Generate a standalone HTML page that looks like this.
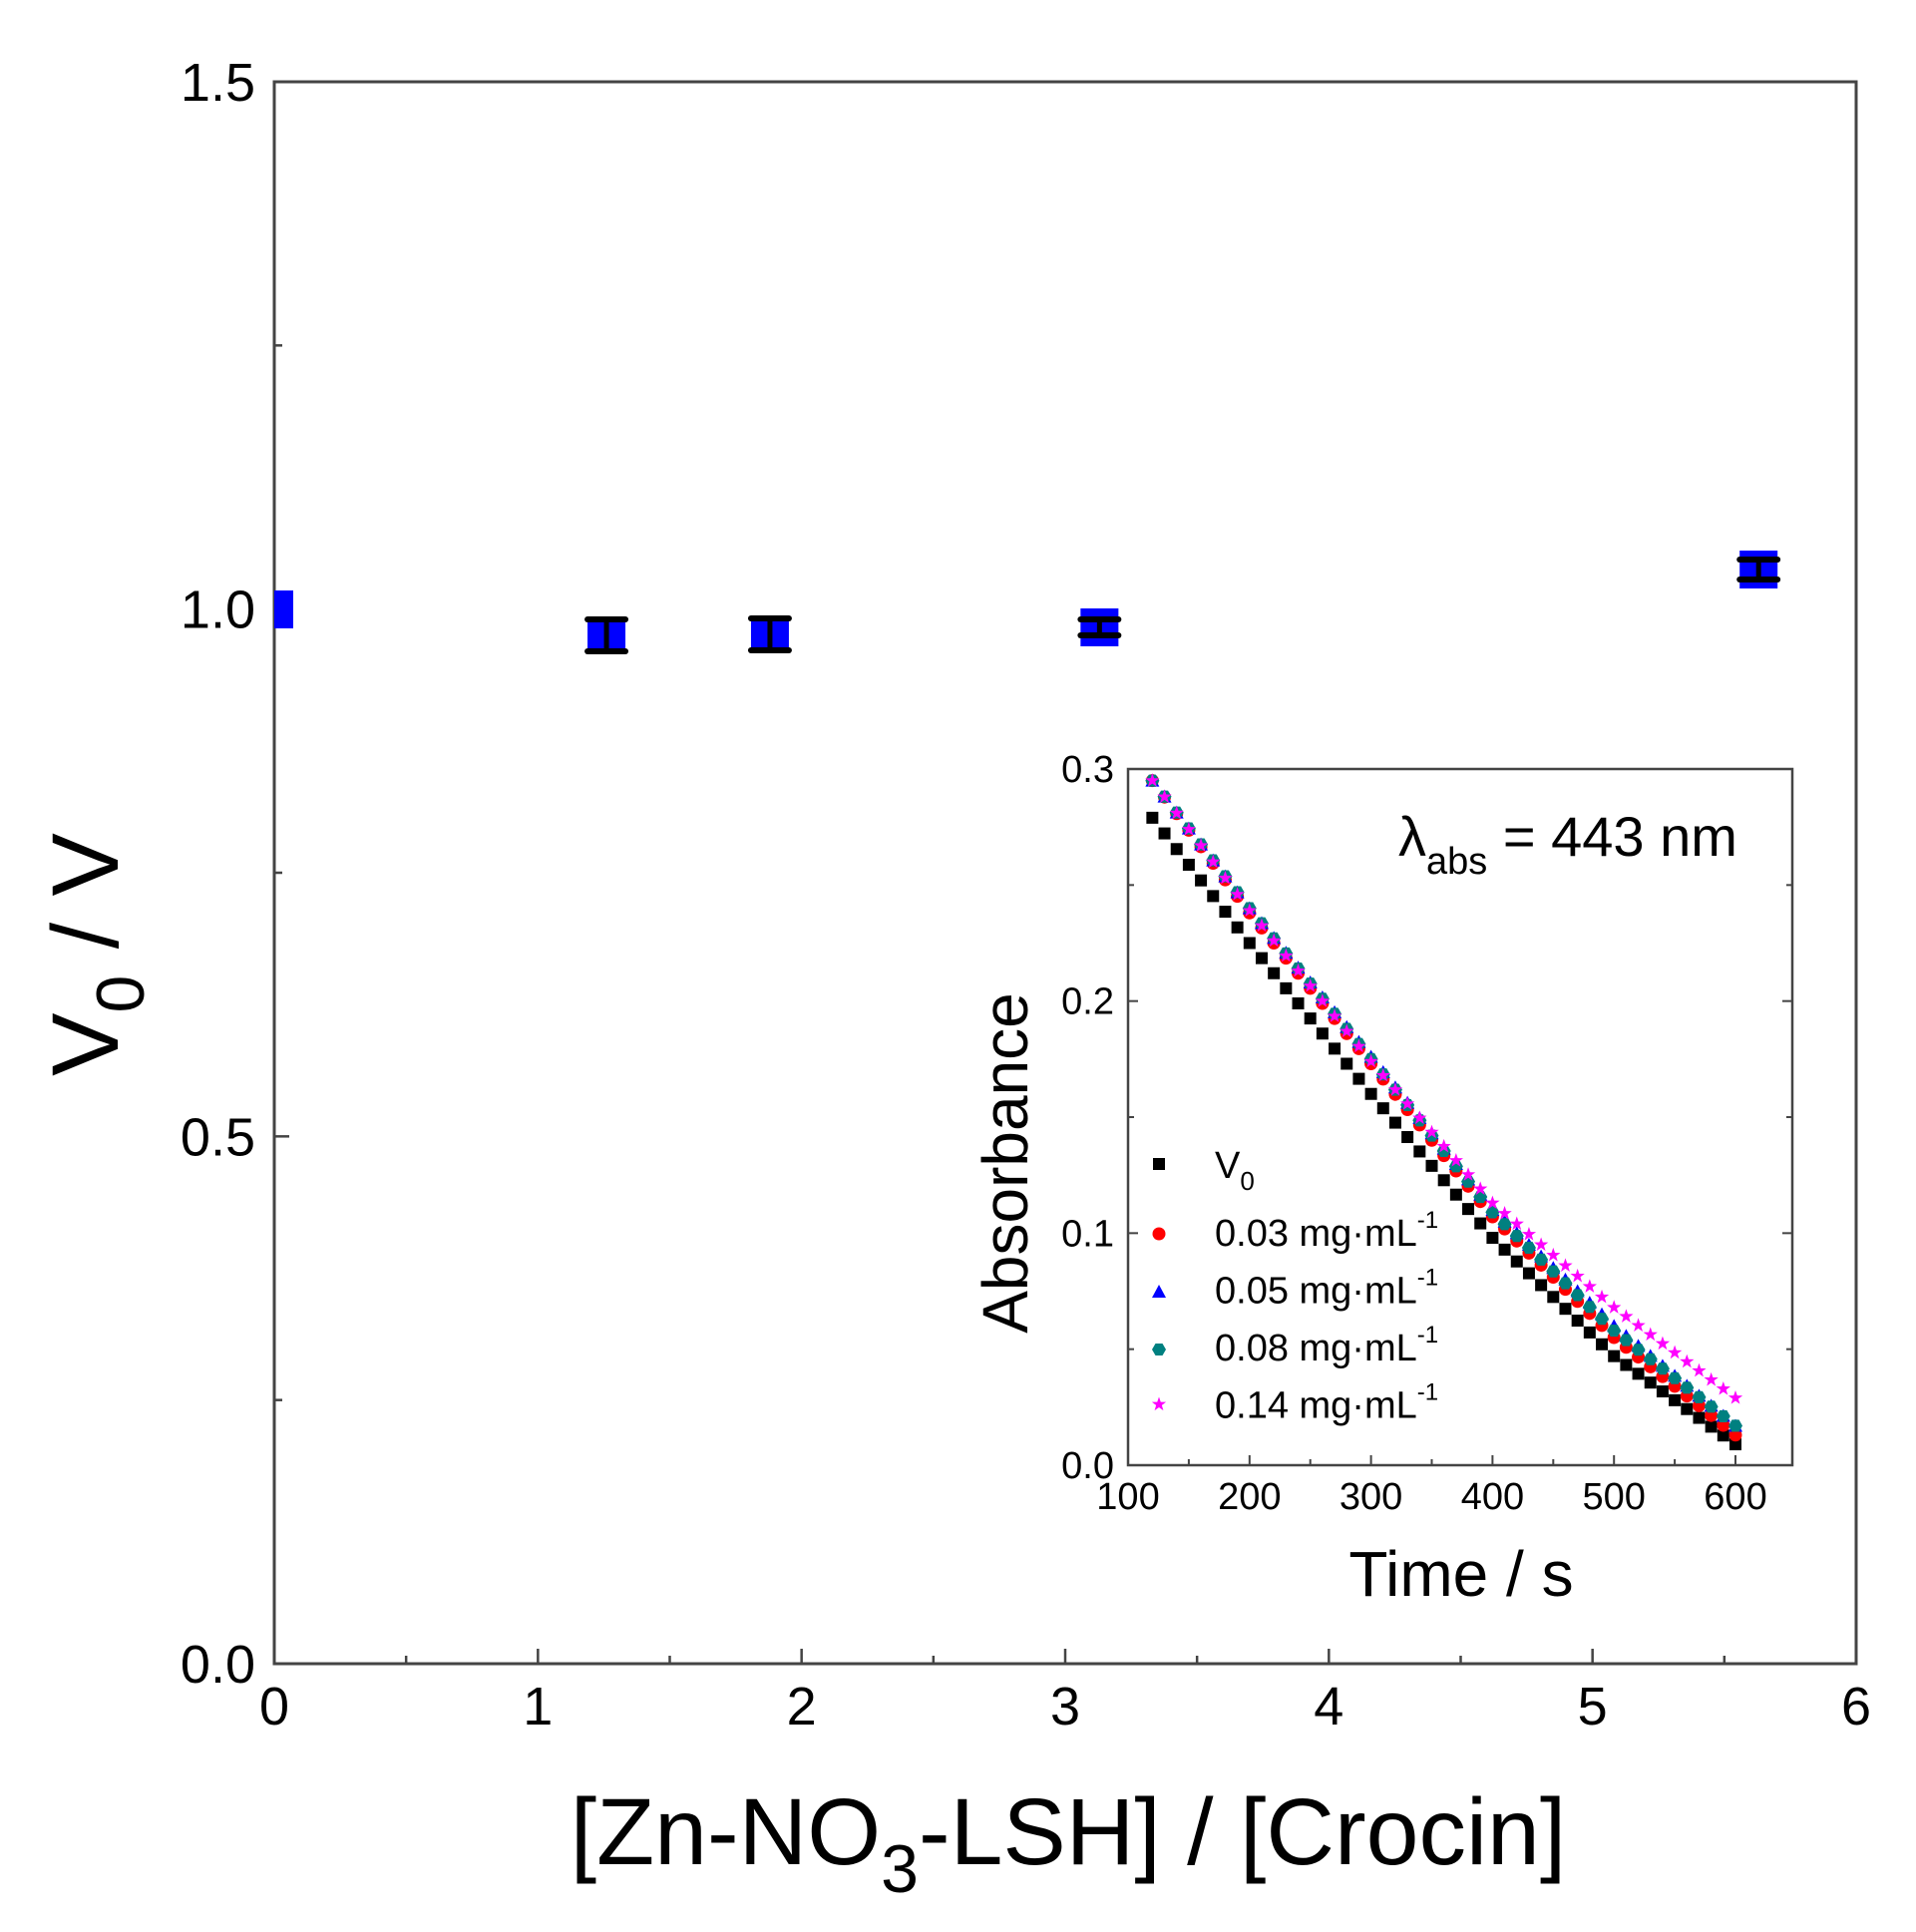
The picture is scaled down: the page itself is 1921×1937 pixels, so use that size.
<!DOCTYPE html>
<html><head><meta charset="utf-8"><style>
html,body{margin:0;padding:0;background:#fff;}
svg{display:block;}
text{font-family:"Liberation Sans",Arial,sans-serif;fill:#000;}
</style></head><body>
<svg id="s" width="1921" height="1937" viewBox="0 0 1921 1937" xmlns="http://www.w3.org/2000/svg">
<rect width="1921" height="1937" fill="#fff"/>
<g id="g"></g>
</svg>
<script>
var NS="http://www.w3.org/2000/svg",G=document.getElementById('g');
function el(t,a,txt){var e=document.createElementNS(NS,t);for(var k in a)e.setAttribute(k,a[k]);if(txt!=null)e.textContent=txt;G.appendChild(e);return e;}
var L=275,R=1861,T=82,B=1668;
function mx(v){return L+(R-L)*v/6;} function my(v){return B-(B-T)*v/1.5;}
for(var i=0;i<=12;i++){var x=mx(i/2);var len=(i%2==0)?15:8;el('line',{x1:x,y1:B,x2:x,y2:B-len,stroke:'#444','stroke-width':2.5});}
for(var i=0;i<=6;i++){var y=my(i*0.25);var len=(i%2==0)?15:8;el('line',{x1:L,y1:y,x2:L+len,y2:y,stroke:'#444','stroke-width':2.5});}
el('rect',{x:L,y:T,width:R-L,height:B-T,fill:'none',stroke:'#444','stroke-width':3});
for(var i=0;i<=6;i++){el('text',{x:mx(i),y:1729,'font-size':54,'text-anchor':'middle'},String(i));}
['0.0','0.5','1.0','1.5'].forEach(function(s,i){el('text',{x:256,y:my(i*0.5)+19,'font-size':54,'text-anchor':'end'},s);});
var pts=[[0,611,0],[1.26,637,16],[1.88,636,16],[3.13,629,8],[5.63,571,10]];
var defs=document.createElementNS(NS,'clipPath');defs.setAttribute('id','c');var cr=document.createElementNS(NS,'rect');
cr.setAttribute('x',L);cr.setAttribute('y',T);cr.setAttribute('width',R-L);cr.setAttribute('height',B-T);defs.appendChild(cr);G.appendChild(defs);
pts.forEach(function(p){var x=mx(p[0]),y=p[1];
 el('rect',{x:x-19,y:y-19,width:38,height:38,fill:'#0000ff','clip-path':'url(#c)'});
 if(p[2]>0){el('line',{x1:x,y1:y-p[2],x2:x,y2:y+p[2],stroke:'#000','stroke-width':5});
 el('line',{x1:x-19,y1:y-p[2],x2:x+19,y2:y-p[2],stroke:'#000','stroke-width':6,'stroke-linecap':'round'});
 el('line',{x1:x-19,y1:y+p[2],x2:x+19,y2:y+p[2],stroke:'#000','stroke-width':6,'stroke-linecap':'round'});}
});
var t=el('text',{x:1071,y:1869,'font-size':95,'text-anchor':'middle'});
t.innerHTML='[Zn-NO<tspan font-size="68" dy="28">3</tspan><tspan dy="-28">-LSH] / [Crocin]</tspan>';
var t2=el('text',{x:0,y:0,'font-size':95,'text-anchor':'middle',transform:'translate(118,957) rotate(-90)'});
t2.innerHTML='V<tspan font-size="68" dy="26">0</tspan><tspan dy="-26"> / V</tspan>';
var iL=1131,iR=1797,iT=771,iB=1469;
function ix(v){return iL+(v-100)*(1740-iL)/500;} function iy(v){return iB-(iB-iT)*v/0.3;}
el('rect',{x:iL,y:iT,width:iR-iL,height:iB-iT,fill:'#fff',stroke:'#444','stroke-width':2.5});
for(var v=100;v<=600;v+=50){var x=ix(v);var len=(v%100==0)?10:6;el('line',{x1:x,y1:iB,x2:x,y2:iB-len,stroke:'#444','stroke-width':2});}
for(var k=0;k<=6;k++){var y=iy(k*0.05);var len=(k%2==0)?10:6;el('line',{x1:iL,y1:y,x2:iL+len,y2:y,stroke:'#444','stroke-width':2});el('line',{x1:iR,y1:y,x2:iR-len,y2:y,stroke:'#444','stroke-width':2});}
for(var v=100;v<=600;v+=100){el('text',{x:ix(v),y:1513,'font-size':38,'text-anchor':'middle'},String(v));}
['0.0','0.1','0.2','0.3'].forEach(function(s,i){el('text',{x:1117,y:iy(i*0.1)+13,'font-size':38,'text-anchor':'end'},s);});
el('text',{x:1465,y:1600,'font-size':64,'text-anchor':'middle'},'Time / s');
el('text',{x:0,y:0,'font-size':64,'text-anchor':'middle',transform:'translate(1030,1166) rotate(-90)'},'Absorbance');
var lt=el('text',{x:1402,y:858,'font-size':56});
lt.innerHTML='λ<tspan font-size="38" dy="18">abs</tspan><tspan dy="-18"> = 443 nm</tspan>';
var knots=[120,200,300,400,500,600];
var ser=[
 {c:'#000',m:'sq',v:[0.279,0.225,0.160,0.098,0.047,0.009]},
 {c:'#ff0000',m:'ci',v:[0.295,0.238,0.173,0.107,0.055,0.013]},
 {c:'#0000ff',m:'tr',v:[0.295,0.240,0.176,0.110,0.060,0.017]},
 {c:'#008080',m:'hx',v:[0.295,0.240,0.175,0.109,0.058,0.017]},
 {c:'#ff00ff',m:'st',v:[0.295,0.239,0.174,0.113,0.068,0.029]}];
function val(s,t){for(var i=0;i<knots.length-1;i++){if(t<=knots[i+1]){var f=(t-knots[i])/(knots[i+1]-knots[i]);return s.v[i]+(s.v[i+1]-s.v[i])*f;}}return s.v[5];}
function mark(m,c,x,y){
 if(m=='sq')el('rect',{x:x-6,y:y-6,width:12,height:12,fill:c});
 else if(m=='ci')el('circle',{cx:x,cy:y,r:6.5,fill:c});
 else if(m=='tr')el('polygon',{points:(x)+','+(y-7)+' '+(x-7)+','+(y+6)+' '+(x+7)+','+(y+6),fill:c});
 else if(m=='hx'){var p=[];for(var k=0;k<6;k++){var a=Math.PI/3*k;p.push((x+7*Math.cos(a))+','+(y+7*Math.sin(a)));}el('polygon',{points:p.join(' '),fill:c});}
 else {var p=[];for(var k=0;k<10;k++){var a=-Math.PI/2+Math.PI/5*k;var r=k%2?3:7.5;p.push((x+r*Math.cos(a))+','+(y+r*Math.sin(a)));}el('polygon',{points:p.join(' '),fill:c});}
}
ser.forEach(function(s){for(var t=120;t<=600;t+=10){mark(s.m,s.c,ix(t),iy(val(s,t)));}});
var rows=[1167,1237,1295,1353,1408];
ser.forEach(function(s,i){mark(s.m,s.c,1162,rows[i]);});
var v0=el('text',{x:1218,y:1181,'font-size':38});v0.innerHTML='V<tspan font-size="26" dy="12">0</tspan>';
['0.03','0.05','0.08','0.14'].forEach(function(s,i){var tt=el('text',{x:1218,y:1249+i*57.5,'font-size':38});
 tt.innerHTML=s+' mg·mL<tspan font-size="24" dy="-18">-1</tspan>';});
</script>
</body></html>
